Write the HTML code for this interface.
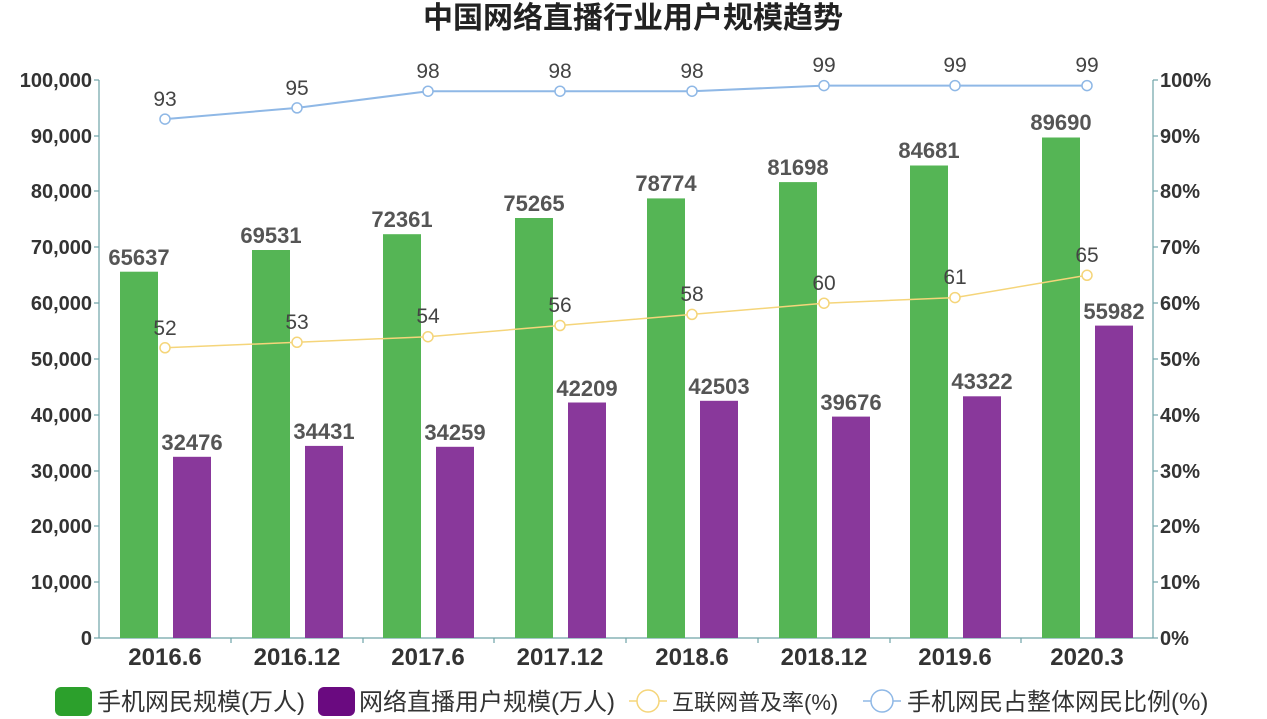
<!DOCTYPE html>
<html><head><meta charset="utf-8"><style>
body{margin:0;background:#fff}
svg{display:block;font-family:"Liberation Sans","Noto Sans CJK SC",sans-serif}
.ax{font-size:20px;font-weight:bold;fill:#333}
.xl{font-size:24px;font-weight:bold;fill:#333;text-anchor:middle}
.bl{font-size:22px;font-weight:bold;fill:#555;text-anchor:middle}
.ll{font-size:21px;fill:#444;text-anchor:middle}
.lg{font-size:24px;fill:#333}
</style></head><body>
<svg width="1267" height="719" viewBox="0 0 1267 719">
<text x="633" y="28" text-anchor="middle" font-size="30" font-weight="bold" fill="#222">中国网络直播行业用户规模趋势</text>
<g stroke="#6fa3a8" stroke-width="1.2">
<line x1="99" y1="80" x2="99" y2="638"/><line x1="1153" y1="80" x2="1153" y2="638"/><line x1="99" y1="638" x2="1153" y2="638"/>
<line x1="94" y1="80" x2="99" y2="80"/><line x1="94" y1="136" x2="99" y2="136"/><line x1="94" y1="191" x2="99" y2="191"/><line x1="94" y1="247" x2="99" y2="247"/><line x1="94" y1="303" x2="99" y2="303"/><line x1="94" y1="359" x2="99" y2="359"/><line x1="94" y1="415" x2="99" y2="415"/><line x1="94" y1="471" x2="99" y2="471"/><line x1="94" y1="526" x2="99" y2="526"/><line x1="94" y1="582" x2="99" y2="582"/><line x1="94" y1="638" x2="99" y2="638"/>
<line x1="1153" y1="80" x2="1158" y2="80"/><line x1="1153" y1="136" x2="1158" y2="136"/><line x1="1153" y1="191" x2="1158" y2="191"/><line x1="1153" y1="247" x2="1158" y2="247"/><line x1="1153" y1="303" x2="1158" y2="303"/><line x1="1153" y1="359" x2="1158" y2="359"/><line x1="1153" y1="415" x2="1158" y2="415"/><line x1="1153" y1="471" x2="1158" y2="471"/><line x1="1153" y1="526" x2="1158" y2="526"/><line x1="1153" y1="582" x2="1158" y2="582"/><line x1="1153" y1="638" x2="1158" y2="638"/>
<line x1="231" y1="638" x2="231" y2="643"/><line x1="363" y1="638" x2="363" y2="643"/><line x1="494" y1="638" x2="494" y2="643"/><line x1="626" y1="638" x2="626" y2="643"/><line x1="758" y1="638" x2="758" y2="643"/><line x1="890" y1="638" x2="890" y2="643"/><line x1="1021" y1="638" x2="1021" y2="643"/>
</g>
<g class="ax" text-anchor="end">
<text x="92" y="87">100,000</text><text x="92" y="143">90,000</text><text x="92" y="198">80,000</text><text x="92" y="254">70,000</text><text x="92" y="310">60,000</text><text x="92" y="366">50,000</text><text x="92" y="422">40,000</text><text x="92" y="478">30,000</text><text x="92" y="533">20,000</text><text x="92" y="589">10,000</text><text x="92" y="645">0</text>
</g>
<g class="ax">
<text x="1160" y="87">100%</text><text x="1160" y="143">90%</text><text x="1160" y="198">80%</text><text x="1160" y="254">70%</text><text x="1160" y="310">60%</text><text x="1160" y="366">50%</text><text x="1160" y="422">40%</text><text x="1160" y="478">30%</text><text x="1160" y="533">20%</text><text x="1160" y="589">10%</text><text x="1160" y="645">0%</text>
</g>
<g class="xl">
<text x="165" y="665">2016.6</text><text x="297" y="665">2016.12</text><text x="428" y="665">2017.6</text><text x="560" y="665">2017.12</text><text x="692" y="665">2018.6</text><text x="824" y="665">2018.12</text><text x="955" y="665">2019.6</text><text x="1087" y="665">2020.3</text>
</g>
<g fill="#55b555">
<rect x="120" y="271.7" width="38" height="366.3"/><rect x="252" y="250" width="38" height="388"/><rect x="383" y="234.2" width="38" height="403.8"/><rect x="515" y="218" width="38" height="420"/><rect x="647" y="198.4" width="38" height="439.6"/><rect x="779" y="182.1" width="38" height="455.9"/><rect x="910" y="165.5" width="38" height="472.5"/><rect x="1042" y="137.5" width="38" height="500.5"/>
</g>
<g fill="#89389b">
<rect x="173" y="456.8" width="38" height="181.2"/><rect x="305" y="445.9" width="38" height="192.1"/><rect x="436" y="446.8" width="38" height="191.2"/><rect x="568" y="402.5" width="38" height="235.5"/><rect x="700" y="400.8" width="38" height="237.2"/><rect x="832" y="416.6" width="38" height="221.4"/><rect x="963" y="396.3" width="38" height="241.7"/><rect x="1095" y="325.6" width="38" height="312.4"/>
</g>
<g class="bl">
<text x="139" y="265">65637</text><text x="271" y="243">69531</text><text x="402" y="227">72361</text><text x="534" y="211">75265</text><text x="666" y="191">78774</text><text x="798" y="175">81698</text><text x="929" y="158">84681</text><text x="1061" y="130">89690</text>
<text x="192" y="450">32476</text><text x="324" y="439">34431</text><text x="455" y="440">34259</text><text x="587" y="396">42209</text><text x="719" y="394">42503</text><text x="851" y="410">39676</text><text x="982" y="389">43322</text><text x="1114" y="319">55982</text>
</g>
<polyline fill="none" stroke="#f5d57a" stroke-width="1.5" points="165,347.8 297,342.3 428,336.7 560,325.5 692,314.4 824,303.2 955,297.6 1087,275.3"/>
<g fill="#fff" stroke="#f5d57a" stroke-width="1.5">
<circle cx="165" cy="347.8" r="5"/><circle cx="297" cy="342.3" r="5"/><circle cx="428" cy="336.7" r="5"/><circle cx="560" cy="325.5" r="5"/><circle cx="692" cy="314.4" r="5"/><circle cx="824" cy="303.2" r="5"/><circle cx="955" cy="297.6" r="5"/><circle cx="1087" cy="275.3" r="5"/>
</g>
<polyline fill="none" stroke="#8fb8e6" stroke-width="2" points="165,119.1 297,107.9 428,91.2 560,91.2 692,91.2 824,85.6 955,85.6 1087,85.6"/>
<g fill="#fff" stroke="#8fb8e6" stroke-width="1.5">
<circle cx="165" cy="119.1" r="5"/><circle cx="297" cy="107.9" r="5"/><circle cx="428" cy="91.2" r="5"/><circle cx="560" cy="91.2" r="5"/><circle cx="692" cy="91.2" r="5"/><circle cx="824" cy="85.6" r="5"/><circle cx="955" cy="85.6" r="5"/><circle cx="1087" cy="85.6" r="5"/>
</g>
<g class="ll">
<text x="165" y="335">52</text><text x="297" y="329">53</text><text x="428" y="323">54</text><text x="560" y="312">56</text><text x="692" y="301">58</text><text x="824" y="290">60</text><text x="955" y="284">61</text><text x="1087" y="262">65</text>
<text x="165" y="106">93</text><text x="297" y="95">95</text><text x="428" y="78">98</text><text x="560" y="78">98</text><text x="692" y="78">98</text><text x="824" y="72">99</text><text x="955" y="72">99</text><text x="1087" y="72">99</text>
</g>
<rect x="55" y="687" width="37" height="29" rx="6" fill="#2ca02c"/>
<text class="lg" x="97" y="710">手机网民规模(万人)</text>
<rect x="318" y="687" width="37" height="29" rx="6" fill="#6a0a80"/>
<text class="lg" x="359" y="710">网络直播用户规模(万人)</text>
<line x1="629" y1="701" x2="667" y2="701" stroke="#f5d57a" stroke-width="1.5"/>
<circle cx="648" cy="701" r="11" fill="#fff" stroke="#f5d57a" stroke-width="1.5"/>
<text class="lg" x="672" y="710" style="font-size:22px">互联网普及率(%)</text>
<line x1="863" y1="701" x2="901" y2="701" stroke="#8fb8e6" stroke-width="1.5"/>
<circle cx="882" cy="701" r="11" fill="#fff" stroke="#8fb8e6" stroke-width="1.5"/>
<text class="lg" x="907" y="710">手机网民占整体网民比例(%)</text>
</svg>
</body></html>
